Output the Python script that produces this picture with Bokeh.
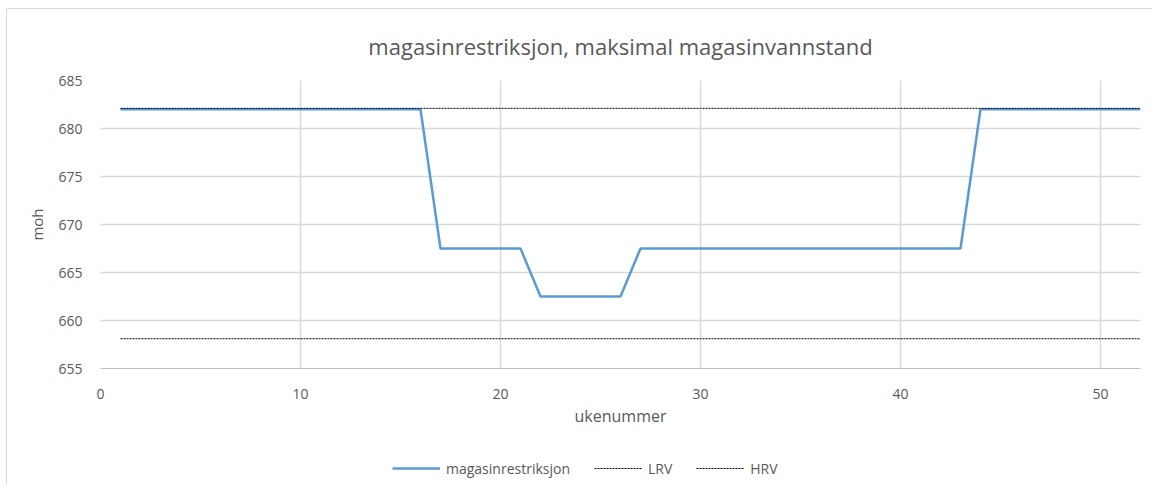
from bokeh.plotting import figure
from bokeh.models import Legend, LegendItem, Range1d, FixedTicker
from bokeh.layouts import column
from bokeh.embed import file_html
from bokeh.resources import INLINE

weeks = list(range(1, 53))
restriksjon = ([682.0] * 16 + [667.5] * 5 + [662.5] * 5 + [667.5] * 17 + [682.0] * 9)
lrv = [658.1] * 52
hrv = [682.1] * 52

x_ticks = [0, 10, 20, 30, 40, 50]
y_ticks = [655, 660, 665, 670, 675, 680, 685]

FONT = "Open Sans"
GREY = "#595959"
BLUE = "#5B9BD5"

p = figure(frame_width=1040, frame_height=288, output_backend="svg", toolbar_location=None,
           x_range=Range1d(0, 52), y_range=Range1d(655, 685),
           title="magasinrestriksjon, maksimal magasinvannstand",
           min_border_left=93, min_border_right=12, min_border_top=71, min_border_bottom=60)
p.title.align = "center"
p.title.text_font = FONT
p.title.text_font_size = "22px"
p.title.text_font_style = "normal"
p.title.text_color = GREY
p.title.standoff = 39
p.outline_line_color = None
p.background_fill_color = "white"
p.border_fill_color = "white"

p.xaxis.ticker = FixedTicker(ticks=x_ticks)
p.yaxis.ticker = FixedTicker(ticks=y_ticks)
for ax in (p.xaxis[0], p.yaxis[0]):
    ax.major_label_text_font = FONT
    ax.major_label_text_font_size = "14px"
    ax.major_label_text_color = GREY
    ax.axis_label_text_font = FONT
    ax.axis_label_text_font_style = "normal"
    ax.axis_label_text_color = GREY
    ax.major_tick_line_color = None
    ax.minor_tick_line_color = None
p.xaxis.axis_label = "ukenummer"
p.yaxis.axis_label = "moh"
p.xaxis.axis_label_text_font_size = "16px"
p.yaxis.axis_label_text_font_size = "15px"
p.xaxis.axis_line_color = "#bfbfbf"
p.yaxis.axis_line_color = None
p.xaxis.major_label_standoff = 14
p.yaxis.major_label_standoff = 12
p.xaxis.axis_label_standoff = 3
p.yaxis.axis_label_standoff = 8
p.xgrid.grid_line_color = "#d9d9d9"
p.ygrid.grid_line_color = "#d9d9d9"
p.xgrid.grid_line_width = 1.5
p.ygrid.grid_line_width = 1.5

p.line(weeks, restriksjon, line_color=BLUE, line_width=2.5)
p.line(weeks, lrv, line_color="black", line_width=1, line_dash="2 1")
p.line(weeks, hrv, line_color="black", line_width=1, line_dash="2 1")

# legend strip below the chart (its proxy lines lie outside its visible range)
lf = figure(width=1145, height=55, output_backend="svg", toolbar_location=None,
            x_range=Range1d(100, 101), y_range=Range1d(0, 1), min_border=0)
lf.axis.visible = False
lf.grid.visible = False
lf.outline_line_color = None
lf.background_fill_color = "white"
lf.border_fill_color = "white"
g1 = lf.line(weeks, restriksjon, line_color=BLUE, line_width=2.5)
g2 = lf.line(weeks, lrv, line_color="black", line_width=1, line_dash="2 1")
g3 = lf.line(weeks, hrv, line_color="black", line_width=1, line_dash="2 1")

legend = Legend(items=[LegendItem(label="magasinrestriksjon", renderers=[g1]),
                       LegendItem(label="LRV", renderers=[g2]),
                       LegendItem(label="HRV", renderers=[g3])],
                orientation="horizontal", location=(292, 6),
                label_text_font=FONT, label_text_font_size="14px", label_text_color=GREY,
                glyph_width=48, label_standoff=6, spacing=24, border_line_color=None,
                background_fill_alpha=0, margin=0, padding=0)
lf.add_layout(legend)

layout = column(p, lf, spacing=0,
                styles={"border-top": "1px solid #d9d9d9", "border-left": "1px solid #d9d9d9",
                        "margin-left": "6px", "margin-top": "8px"})

open("out.html", "w").write(file_html(layout, INLINE))
